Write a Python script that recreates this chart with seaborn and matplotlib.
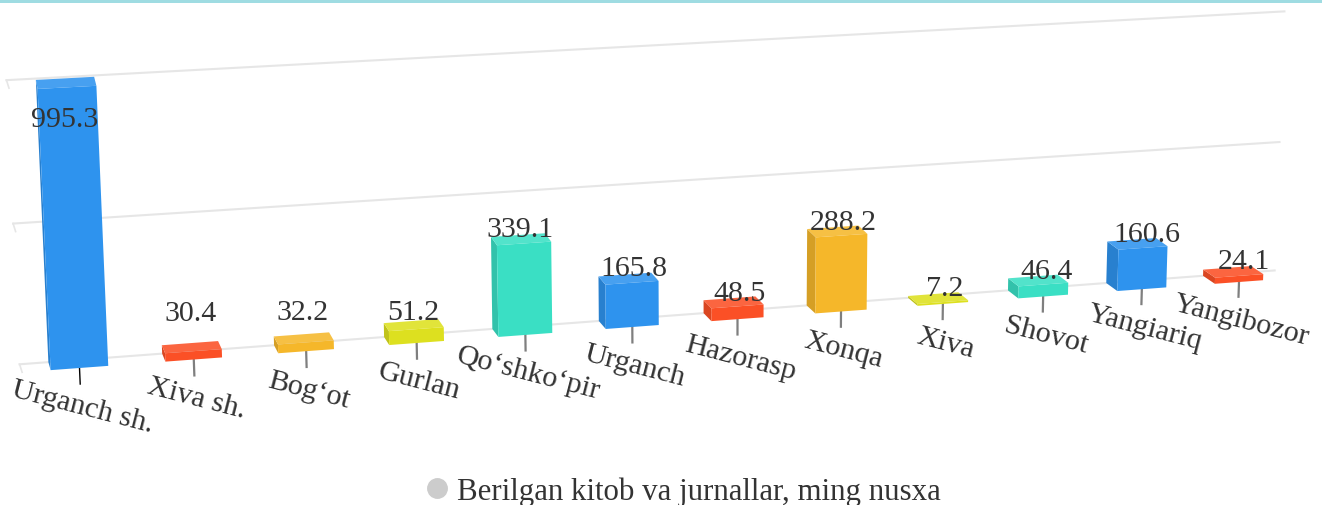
import numpy as np
import seaborn as sns
import matplotlib
matplotlib.use('Agg')
import matplotlib.pyplot as plt
from matplotlib.lines import Line2D
from matplotlib.patches import Polygon, Rectangle
from matplotlib.colors import to_rgb
from matplotlib.transforms import Transform, IdentityTransform

# Data
districts = ['Urganch sh.', 'Xiva sh.', 'Bog‘ot', 'Gurlan', 'Qo‘shko‘pir', 'Urganch',
             'Hazorasp', 'Xonqa', 'Xiva', 'Shovot', 'Yangiariq', 'Yangibozor']
values = [995.3, 30.4, 32.2, 51.2, 339.1, 165.8, 48.5, 288.2, 7.2, 46.4, 160.6, 24.1]
value_labels = ['995.3', '30.4', '32.2', '51.2', '339.1', '165.8', '48.5', '288.2', '7.2', '46.4', '160.6', '24.1']
grid_values = [0, 500, 1000]
series_name = 'Berilgan kitob va jurnallar, ming nusxa'

# Style
colors = ['#2E93EE', '#FB5026', '#F5B72A', '#DDE01F', '#3ADFC4'] * 3
colors = colors[:len(districts)]
label_shift = [(0, -48), (1, 23), (1, 15), (2, 2), (2, -1), (9, 0), (10, -2), (10, -2), (11, -1), (14, -2), (15, -1), (17, 0)]

W, H = 1322, 506


def homography(src, dst):
    # solve the 8 unknowns from 4 point pairs
    A, b = [], []
    for (x, y), (u, v) in zip(src, dst):
        A.append([x, y, 1, 0, 0, 0, -u * x, -u * y])
        A.append([0, 0, 0, x, y, 1, -v * x, -v * y])
        b += [u, v]
    return np.append(np.linalg.solve(np.array(A, float), np.array(b, float)), 1).reshape(3, 3)


class Project(Transform):
    input_dims = 2
    output_dims = 2
    is_separable = False
    has_inverse = False

    def __init__(self, matrix):
        super().__init__()
        self.matrix = matrix

    def transform_non_affine(self, values):
        values = np.asarray(values, float)
        pts = np.column_stack([values, np.ones(len(values))]) @ self.matrix.T
        out = pts[:, :2] / pts[:, 2:]
        out[:, 1] = H - out[:, 1]
        return out


corners = [(0, 0), (0, 1000), (11, 0), (11, 1000)]
front_tf = Project(homography(corners, [(79.5, 369), (67, 87), (1239, 283), (1248, 24)]))
back_tf = Project(homography(corners, [(77, 361), (65, 78), (1227, 275), (1236, 15)]))


def shade(color, amount):
    c = np.array(to_rgb(color))
    if amount > 0:
        return tuple(c + (1 - c) * amount)
    return tuple(c * (1 + amount))


plt.rcParams['font.family'] = ['Liberation Serif', 'DejaVu Serif']
fig = plt.figure(figsize=(W / 100, H / 100), dpi=100)
ax = fig.add_axes([0, 0, 1, 1])

sns.barplot(x=districts, y=values, hue=districts, palette=colors, legend=False,
            width=0.5, saturation=1, ax=ax)
ax.axis('off')

# Front faces come from seaborn, the other two are built from the same rectangles
for bar, color in zip(ax.patches, colors):
    x0, x1 = bar.get_x(), bar.get_x() + bar.get_width()
    v = bar.get_height()
    bar.set_transform(front_tf)
    bar.set_clip_on(False)
    bar.set_linewidth(0)
    bar.set_zorder(3)
    f = front_tf.transform([(x0, 0), (x0, v), (x1, v)])
    b = back_tf.transform([(x0, 0), (x0, v), (x1, v)])
    ax.add_patch(Polygon([b[0], b[1], f[1], f[0]], closed=True, transform=IdentityTransform(),
                         fc=shade(color, -0.13), ec='none', zorder=2.5, clip_on=False))
    ax.add_patch(Polygon([f[1], f[2], b[2], b[1]], closed=True, transform=IdentityTransform(),
                         fc=shade(color, 0.12), ec='none', zorder=2.6, clip_on=False))

# Grid on the back wall
x_left, x_right = -0.5, 11.5
for g in grid_values:
    ax.plot([x_left, x_right], [g, g], color='#e6e6e6', lw=1.5, transform=back_tf, clip_on=False, zorder=1)
    p = back_tf.transform([(x_left, g)])[0]
    ax.plot([p[0], p[0] + 2.5], [p[1], p[1] - 8], color='#e6e6e6', lw=1.2,
            transform=IdentityTransform(), clip_on=False, zorder=1)

# Ticks and labels
for i, name in enumerate(districts):
    ax.plot([i, i], [0, -58], color='#000000' if i == 0 else '#7f7f7f', lw=1 if i == 0 else 1.6,
            transform=front_tf, clip_on=False, zorder=2)
    base = front_tf.transform([(i, 0)])[0]
    ax.annotate(name, xy=base, xycoords='figure pixels', xytext=(1, -45), textcoords='offset pixels',
                ha='center', va='baseline', rotation=-14.5, rotation_mode='anchor',
                fontsize=21.7, color='#333333', zorder=5)

# Value labels
for i, text in enumerate(value_labels):
    top = back_tf.transform([(i, values[i])])[0]
    ax.annotate(text, xy=top, xycoords='figure pixels', xytext=label_shift[i], textcoords='offset pixels',
                ha='center', va='baseline', fontsize=21.5, color='#333333', zorder=6)

fig.add_artist(Rectangle((0, 1 - 4 / H), 1, 4 / H, transform=fig.transFigure, fc='#9FDCE2', ec='none'))

handle = Line2D([], [], linestyle='none', marker='o', markersize=14, color='#cccccc')
fig.legend([handle], [series_name], loc='center', bbox_to_anchor=(0.515, 0.028), frameon=False,
           fontsize=22.2, labelcolor='#333333', handlelength=1, handletextpad=0.15, borderpad=0)

fig.savefig('out.png', dpi=100)
